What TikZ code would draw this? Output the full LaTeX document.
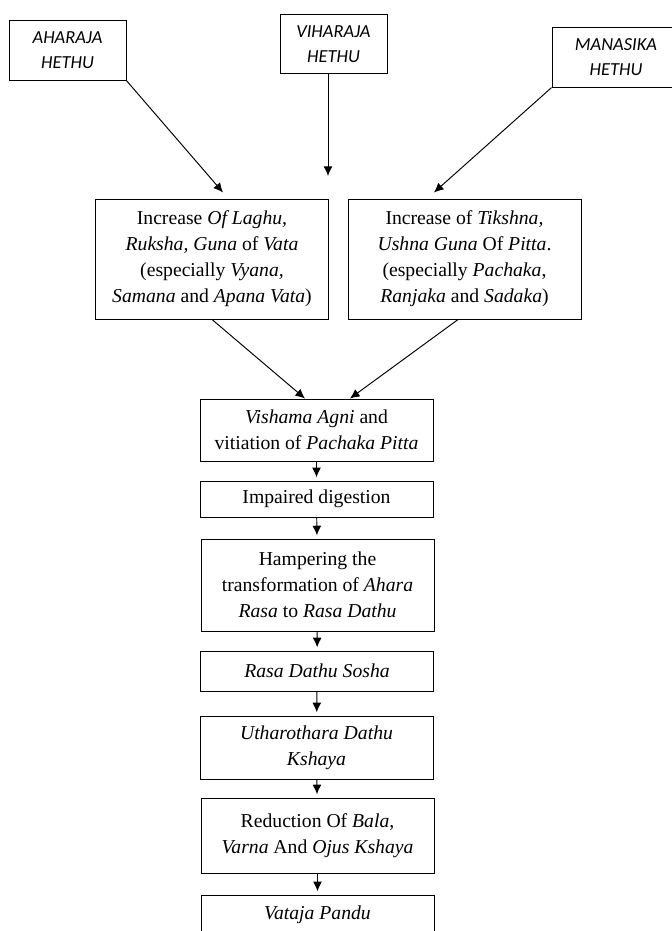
\documentclass[tikz,border=0pt]{standalone}
\usepackage{fontspec}
\setmainfont{Liberation Serif}
\newfontfamily\hethufont{Carlito}
\usetikzlibrary{arrows.meta}

\begin{document}
\begin{tikzpicture}[x=0.625pt,y=-0.625pt,line width=.6pt,->,
     >={Latex[length=6pt,width=5.5pt]},
     hethu/.style={draw,align=center,inner sep=0pt,minimum height=37pt,
       font=\hethufont\itshape\fontsize{11.5}{15.6}\selectfont},
     stage/.style={draw,align=center,inner sep=0pt,minimum width=145.6pt,
       font=\fontsize{12.3}{16.25}\selectfont}]
  \useasboundingbox (0,0) rectangle (672,931);
  \clip (0,0) rectangle (672,931);
  \path (67.5,50.5) node[hethu,minimum width=73.1pt] (aha) {AHARAJA\\HETHU}
     (333.5,44) node[hethu,minimum width=66.9pt] (vih) {VIHARAJA\\HETHU}
     (616,57.5) node[hethu,minimum width=80pt] (man) {MANASIKA\\HETHU}
     (328,176) coordinate (vihend);
  \path (212,259) node[stage,minimum height=75pt] (vata)
       {Increase \textit{Of Laghu,}\\ \textit{Ruksha, Guna} of \textit{Vata}\\
        (especially \textit{Vyana,}\\ \textit{Samana} and \textit{Apana Vata})}
     (464.5,259) node[stage,minimum height=75pt] (pitta)
       {Increase of \textit{Tikshna,}\\ \textit{Ushna Guna} Of \textit{Pitta}.\\
        (especially \textit{Pachaka},\\ \textit{Ranjaka} and \textit{Sadaka})}
     (316.5,430) node[stage,minimum height=38.75pt] (agni)
       {\textit{Vishama Agni} and\\ vitiation of \textit{Pachaka Pitta}}
     (316.5,499) node[stage,minimum height=22.5pt] (dig) {Impaired digestion}
     (317.5,585) node[stage,minimum height=57.5pt] (hamp)
       {Hampering the\\ transformation of \textit{Ahara}\\ \textit{Rasa} to \textit{Rasa Dathu}}
     (317,671) node[stage,minimum height=25pt] (sosha) {\textit{Rasa Dathu Sosha}}
     (316.5,747.5) node[stage,minimum height=39.4pt] (ksha)
       {\textit{Utharothara Dathu}\\ \textit{Kshaya}}
     (317.5,835.5) node[stage,minimum height=46.9pt] (bala)
       {Reduction Of \textit{Bala},\\ \textit{Varna} And \textit{Ojus Kshaya}}
     (317.5,915) node[stage,minimum height=25pt] (pandu) {\textit{Vataja Pandu}};
  \draw (aha.south east) to ([xshift=6.9pt,yshift=3.75pt]vata.north);
  \draw (vih.south -| vihend) to (vihend);
  \draw (man.south west) to ([xshift=-19.1pt,yshift=3.75pt]pitta.north);
  \draw (vata.south) to ([xshift=-7.2pt]agni.north);
  \draw ([xshift=-4pt]pitta.south) to ([xshift=20.9pt]agni.north);
  \draw[shorten >=2pt] (agni) to (dig);
  \draw[shorten >=2pt] (dig) to (hamp);
  \draw[shorten >=2pt] (hamp) to (sosha);
  \draw[shorten >=2pt] (sosha) to (ksha);
  \draw[shorten >=2pt] (ksha) to (bala);
  \draw[shorten >=2pt] (bala) to (pandu);
\end{tikzpicture}
\end{document}
